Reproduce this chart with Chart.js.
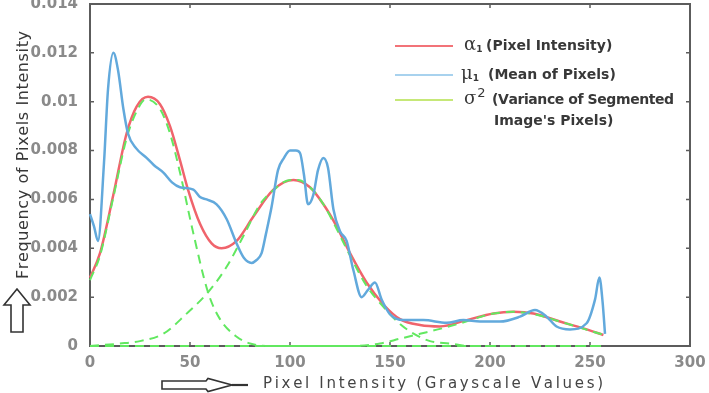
<!DOCTYPE html>
<html>
<head>
<meta charset="utf-8">
<script src="https://cdn.jsdelivr.net/npm/chart.js@4.4.0/dist/chart.umd.min.js"></script>
<style>
  html, body { margin: 0; padding: 0; background: #ffffff; }
  #wrap { width: 709px; height: 393px; }
</style>
</head>
<body>
<div id="wrap"><canvas id="histChart" width="709" height="393"></canvas></div>
<script>
// Values (x = grayscale value, y = frequency)
const meanX = [0, 2, 4, 7, 9, 11.7, 14, 16.7, 19, 23, 28.3, 32, 36.7, 41, 45, 51.7, 55, 58.3, 63.3, 68.3,
    73.3, 77, 80.8, 83, 85.8, 88, 90.8, 94, 97, 100, 103, 105, 107, 109, 111.7, 114, 116.7, 119, 121.7, 125,
    128.3, 131.7, 135.8, 139, 142.5, 145.8, 150, 156.7, 166.7, 178.3, 186.7, 195, 205, 215, 222.5, 228.3,
    233.3, 240, 248.3, 252.5, 254.7, 256.3, 257.5];
const meanY = [0.0054, 0.0049, 0.0043, 0.0075, 0.0105, 0.0120, 0.0113, 0.0097, 0.0087, 0.0081, 0.0077, 0.0074,
    0.0071, 0.0067, 0.0065, 0.0064, 0.0061, 0.0060, 0.0058, 0.0052, 0.0042, 0.0036, 0.0034, 0.0035, 0.0038,
    0.0046, 0.0057, 0.0072, 0.0077, 0.0080, 0.0080, 0.0079, 0.0070, 0.0058, 0.0062, 0.0072, 0.0077, 0.0073,
    0.0056, 0.0047, 0.0043, 0.0031, 0.0020, 0.0023, 0.0026, 0.0019, 0.0013, 0.00106, 0.00106, 0.00095,
    0.00106, 0.0010, 0.0010, 0.0012, 0.00147, 0.0012, 0.0008, 0.00068, 0.00093, 0.0019, 0.0028, 0.0018, 0.0005];

const alphaX = [0, 5, 11.7, 18.3, 23.3, 29, 35, 40, 45, 49, 55, 60.8, 65.8, 73.3, 81.7, 91.7, 101.7, 110,
    116.7, 123.3, 130, 138.3, 146.7, 155, 165, 175, 188.3, 201.7, 211.7, 221.7, 235, 246.7, 256.7];
const alphaY = [0.0028, 0.0038, 0.0062, 0.0087, 0.0098, 0.0102, 0.0099, 0.0090, 0.0076, 0.0064, 0.0050,
    0.0042, 0.0040, 0.0043, 0.0053, 0.0064, 0.0068, 0.0065, 0.0058, 0.0049, 0.0038, 0.0026, 0.0017, 0.0011,
    0.00086, 0.0008, 0.00106, 0.00133, 0.0014, 0.00133, 0.0010, 0.00072, 0.00045];

// three segmented components (dashed)
const comp1X = [0, 5, 11.7, 18.3, 23.3, 28, 35, 40, 45, 51.7, 59, 65, 73, 80, 90, 257];
const comp1Y = [0.0027, 0.0037, 0.0061, 0.0085, 0.0096, 0.0101, 0.0097, 0.0087, 0.0071, 0.0046, 0.0022,
    0.0011, 0.0004, 0.0001, 0, 0];
const comp2X = [0, 15, 25, 36.7, 48, 59, 68, 76.7, 85, 92, 100, 104, 110, 116.7, 123.3, 130, 138, 146.7,
    155, 162, 170, 180, 190, 257];
const comp2Y = [0, 0.0001, 0.0002, 0.0005, 0.0013, 0.0022, 0.0032, 0.0045, 0.0058, 0.0064, 0.0068, 0.0068,
    0.0065, 0.0058, 0.0048, 0.0037, 0.0025, 0.0016, 0.0009, 0.0005, 0.0002, 0.0001, 0, 0];
const comp3X = [0, 130, 145, 155, 165, 175, 188, 200, 212, 222, 235, 247, 257];
const comp3Y = [0, 0, 0.0001, 0.0003, 0.0005, 0.0007, 0.0010, 0.0013, 0.0014, 0.0013, 0.0010, 0.0007, 0.00045];

const xTicks = [0, 50, 100, 150, 200, 250, 300];
const yTicks = [0, 0.002, 0.004, 0.006, 0.008, 0.01, 0.012, 0.014];

const xTitle = 'Pixel Intensity (Grayscale Values)';
const yTitle = 'Frequency of Pixels Intensity';

// legend rows: symbol, sub/superscript, text lines
const legendSymbols = ['α', 'μ', 'σ'];
const legendScripts = ['1', '1', '2'];
const legendTexts = [['(Pixel Intensity)'], ['(Mean of Pixels)'], ['(Variance of Segmented', "Image's Pixels)"]];

const colors = {
    alpha: '#f0646c',
    mean: '#62a9dc',
    comp: '#62e860',
    axis: '#5c5c5c',
    tick: '#8a8a8a',
    text: '#383838',
    swatch: ['#f27378', '#a8d2ee', '#c6e878']
};

function toPoints(xs, ys) {
    return xs.map((x, i) => ({ x: x, y: ys[i] }));
}

// draw text letter by letter so it spans a given length
function fillSpread(ctx, text, x, y, length) {
    const chars = text.split('');
    const natural = chars.reduce((s, c) => s + ctx.measureText(c).width, 0);
    const gap = (length - natural) / (chars.length - 1);
    let cx = x;
    chars.forEach(c => {
        ctx.fillText(c, cx, y);
        cx += ctx.measureText(c).width + gap;
    });
}

// box + inward tick marks
const framePlugin = {
    id: 'frame',
    beforeDatasetsDraw(chart) {
        const { ctx, chartArea: a, scales } = chart;
        ctx.save();
        ctx.strokeStyle = colors.axis;
        ctx.lineWidth = 2;
        ctx.strokeRect(a.left, a.top, a.right - a.left, a.bottom - a.top);
        ctx.lineWidth = 1.5;
        ctx.beginPath();
        xTicks.forEach(v => {
            const px = scales.x.getPixelForValue(v);
            ctx.moveTo(px, a.bottom); ctx.lineTo(px, a.bottom - 4);
            ctx.moveTo(px, a.top); ctx.lineTo(px, a.top + 4);
        });
        yTicks.forEach(v => {
            const py = scales.y.getPixelForValue(v);
            ctx.moveTo(a.left, py); ctx.lineTo(a.left + 4, py);
            ctx.moveTo(a.right, py); ctx.lineTo(a.right - 4, py);
        });
        ctx.stroke();
        ctx.restore();
    }
};

// legend, axis titles and the outlined arrows
const annotatePlugin = {
    id: 'annotate',
    afterDraw(chart) {
        const ctx = chart.ctx;
        ctx.save();

        const rowY = [46, 75, 100];
        legendSymbols.forEach((sym, i) => {
            const y = rowY[i];
            ctx.strokeStyle = colors.swatch[i];
            ctx.lineWidth = 2;
            ctx.beginPath();
            ctx.moveTo(395, y); ctx.lineTo(453, y);
            ctx.stroke();

            ctx.fillStyle = colors.text;
            ctx.textBaseline = 'middle';
            ctx.textAlign = 'left';
            const symX = [464, 461, 464][i];
            ctx.font = '18px "DejaVu Serif"';
            ctx.fillText(sym, symX, y - 1);
            const w = ctx.measureText(sym).width;
            if (i < 2) {
                ctx.font = 'bold 9px "DejaVu Sans"';
                ctx.fillText(legendScripts[i], symX + w, y + 4);
            } else {
                ctx.font = '13px "DejaVu Sans"';
                ctx.fillText(legendScripts[i], symX + w + 1, y - 6);
            }
            const textX = [486, 488, 492][i];
            ctx.font = 'bold 14px "DejaVu Sans"';
            legendTexts[i].forEach((t, j) => {
                const len = ctx.measureText(t).width;
                if (i === 2 && j === 0) {
                    fillSpread(ctx, t, textX, y, len - 8);
                } else {
                    ctx.fillText(t, textX + j * 2, y + j * 21);
                }
            });
        });

        // x title
        ctx.fillStyle = '#444444';
        ctx.font = '15px "DejaVu Sans"';
        ctx.textAlign = 'left';
        ctx.textBaseline = 'middle';
        fillSpread(ctx, xTitle, 263, 384, 340);

        // y title
        ctx.save();
        ctx.translate(24, 279);
        ctx.rotate(-Math.PI / 2);
        ctx.textAlign = 'left';
        ctx.fillStyle = colors.text;
        ctx.font = '16px "DejaVu Sans"';
        fillSpread(ctx, yTitle, 0, 0, 248);
        ctx.restore();

        // up arrow
        ctx.strokeStyle = '#333333';
        ctx.lineWidth = 1.6;
        ctx.beginPath();
        ctx.moveTo(17, 289);
        ctx.lineTo(30, 305);
        ctx.lineTo(23, 305);
        ctx.lineTo(23, 332);
        ctx.lineTo(11, 332);
        ctx.lineTo(11, 305);
        ctx.lineTo(4, 305);
        ctx.closePath();
        ctx.stroke();

        // right arrow
        ctx.beginPath();
        ctx.moveTo(162, 381);
        ctx.lineTo(206, 381);
        ctx.lineTo(208, 378.5);
        ctx.lineTo(232, 385);
        ctx.lineTo(208, 391.5);
        ctx.lineTo(206, 389);
        ctx.lineTo(162, 389);
        ctx.closePath();
        ctx.stroke();
        ctx.lineWidth = 2.2;
        ctx.beginPath();
        ctx.moveTo(232, 385); ctx.lineTo(248, 385);
        ctx.stroke();

        ctx.restore();
    }
};

function lineSet(label, pts, color, width, dash) {
    return {
        label: label,
        data: pts,
        borderColor: color,
        backgroundColor: color,
        borderWidth: width,
        borderDash: dash || [],
        pointRadius: 0,
        fill: false,
        cubicInterpolationMode: 'monotone',
        clip: false
    };
}

function initializeChart() {
    const ctx = document.getElementById('histChart').getContext('2d');
    return new Chart(ctx, {
        type: 'line',
        data: {
            datasets: [
                lineSet('μ1 (Mean of Pixels)', toPoints(meanX, meanY), colors.mean, 2.5),
                lineSet('σ2 component 1', toPoints(comp1X, comp1Y), colors.comp, 2, [9, 6]),
                lineSet('σ2 component 2', toPoints(comp2X, comp2Y), colors.comp, 2, [9, 6]),
                lineSet('σ2 component 3', toPoints(comp3X, comp3Y), colors.comp, 2, [9, 6]),
                lineSet('α1 (Pixel Intensity)', toPoints(alphaX, alphaY), colors.alpha, 2.5)
            ]
        },
        options: {
            responsive: false,
            animation: false,
            devicePixelRatio: 1,
            layout: { padding: { top: 4, right: 19, left: 0, bottom: 0 } },
            plugins: {
                legend: { display: false },
                tooltip: { enabled: false }
            },
            scales: {
                x: {
                    type: 'linear',
                    min: 0,
                    max: 300,
                    afterBuildTicks: s => { s.ticks = xTicks.map(v => ({ value: v })); },
                    afterFit: s => { s.height = 47; s.paddingLeft = 0; s.paddingRight = 0; },
                    grid: { display: false },
                    border: { display: false },
                    ticks: {
                        color: colors.tick,
                        padding: 0,
                        maxRotation: 0,
                        font: { family: '"DejaVu Sans"', size: 15, weight: 'bold' }
                    }
                },
                y: {
                    type: 'linear',
                    min: 0,
                    max: 0.014,
                    afterBuildTicks: s => { s.ticks = yTicks.map(v => ({ value: v })); },
                    afterFit: s => { s.width = 90; s.paddingTop = 0; s.paddingBottom = 0; },
                    grid: { display: false },
                    border: { display: false },
                    ticks: {
                        color: colors.tick,
                        padding: 4,
                        font: { family: '"DejaVu Sans"', size: 15, weight: 'bold' },
                        callback: v => String(Number(v.toFixed(3)))
                    }
                }
            }
        },
        plugins: [framePlugin, annotatePlugin]
    });
}

initializeChart();
</script>
</body>
</html>
